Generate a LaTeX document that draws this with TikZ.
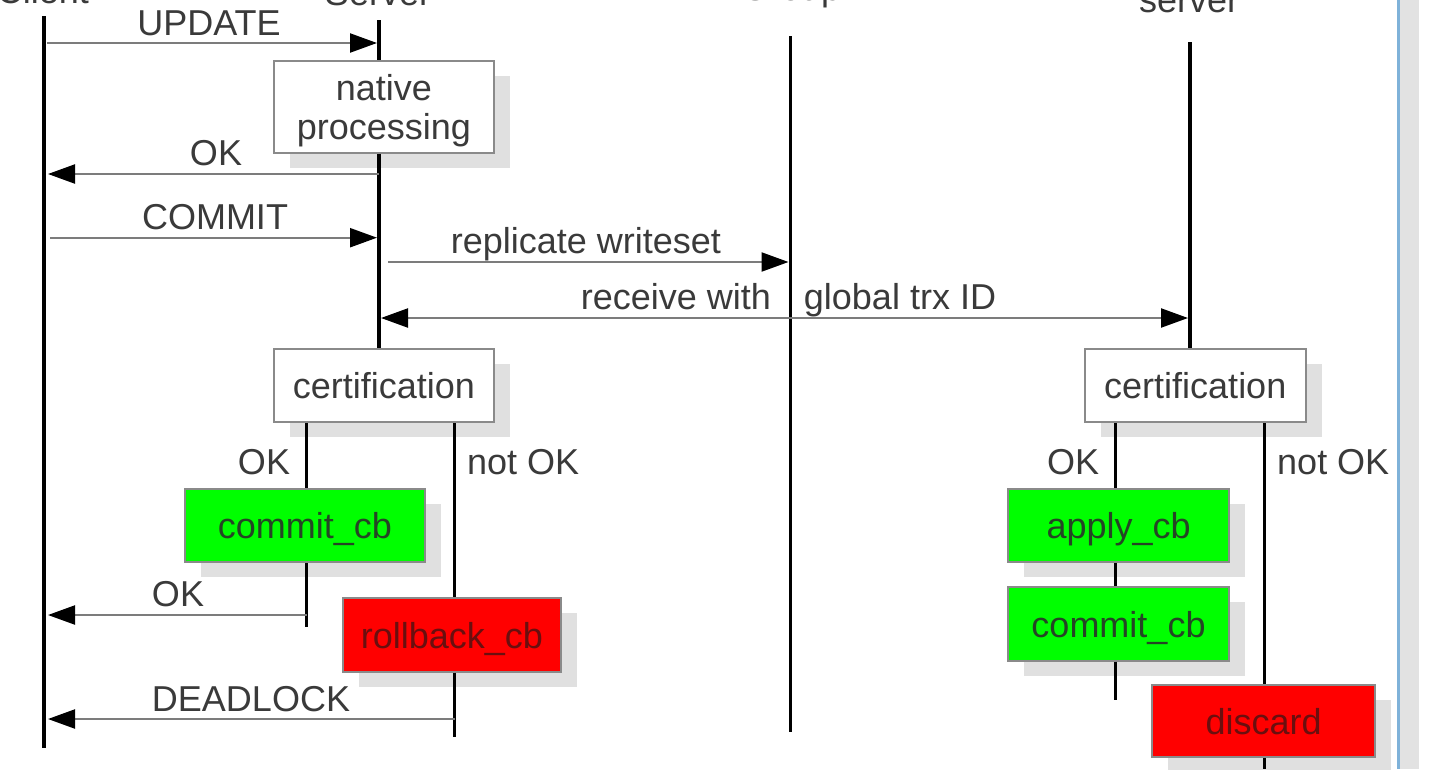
\documentclass[tikz,border=0pt]{standalone}
\usepackage{fontspec}
\setmainfont{Liberation Sans}
\usetikzlibrary{arrows.meta,shadows}
\definecolor{txt}{HTML}{3A3A3A}
\definecolor{msgc}{HTML}{7C7C7C}
\definecolor{boxb}{HTML}{8A8A8A}
\definecolor{shad}{HTML}{E0E0E0}
\definecolor{gfill}{HTML}{00FF00}
\definecolor{rfill}{HTML}{FF0000}
\definecolor{gtxt}{HTML}{254525}
\definecolor{rtxt}{HTML}{6A0F0F}
\definecolor{bluel}{HTML}{7FB2D9}
\definecolor{band}{HTML}{E2E2E2}
\begin{document}
\begin{tikzpicture}[x=1pt,y=-1pt,
  every node/.style={font=\fontsize{36}{39}\selectfont, text=txt, inner sep=0pt},
  lbl/.style={anchor=base},
  bigtri/.tip={Triangle[length=27pt,width=19pt,color=black]},
  msg/.style={draw=msgc, line width=2.2pt, -bigtri},
  life/.style={draw=black, line width=4.2pt},
  branch/.style={draw=black, line width=3pt},
  procbox/.style={draw=boxb, line width=2pt, fill=white, text depth=0pt, align=center,
    drop shadow={shadow xshift=16pt, shadow yshift=-15pt, fill=shad, opacity=1}},
  okbox/.style={procbox, fill=gfill, text=gtxt},
  badbox/.style={procbox, fill=rfill, text=rtxt}
]
\useasboundingbox (0,0) rectangle (1442,769);
\clip (0,0) rectangle (1442,769);
\fill[white] (0,0) rectangle (1442,769);

% right window edge
\fill[band] (1400,0) rectangle (1419,769);
\draw[bluel, line width=3pt] (1398.5,0) -- (1398.5,769);

% headers (cut off by the frame)
\node[lbl] (hCli) at (43,3) {Client};
\node[lbl] (hSrv) at (378,5) {Server};
\node[lbl] (hGrp) at (791,0) {Group};
\node[lbl] (hRem) at (1189,12.5) {server};

% boxes
\node[procbox, minimum width=219.6pt, minimum height=92pt] (native) at (383.8,106.7) {native\\processing};
\node[procbox, minimum width=219.6pt, minimum height=73pt] (certL) at (383.8,385.8) {certification};
\node[procbox, minimum width=221pt, minimum height=73pt] (certR) at (1195.25,385.8) {certification};
\node[okbox, minimum width=239.7pt, minimum height=73pt] (commitL) at (304.85,525.8) {commit\_cb};
\node[badbox, minimum width=218pt, minimum height=73.4pt] (rollback) at (452,635) {rollback\_cb};
\node[okbox, minimum width=221.5pt, minimum height=73pt] (apply) at (1118.65,525.8) {apply\_cb};
\node[okbox, minimum width=221pt, minimum height=73.4pt] (commitR) at (1118.5,624) {commit\_cb};
\node[badbox, minimum width=222.6pt, minimum height=72.3pt] (discard) at (1263.7,721.15) {discard};

% lifelines
\coordinate (cliTop) at (43.6,16);
\coordinate (cliBot) at (43.6,748);
\coordinate (srvTop) at (379,20);
\coordinate (grpTop) at (790,36);
\coordinate (grpBot) at (790,732);
\coordinate (remTop) at (1190,42);
\draw[life] (cliTop) -- (cliBot);
\draw[life] (srvTop) -- (srvTop |- native.north);
\draw[life] (srvTop |- native.south) -- (srvTop |- certL.north);
\draw[branch] (grpTop) -- (grpBot);
\draw[life] (remTop) -- (remTop |- certR.north);

% branches
\coordinate (brLok) at (306.7,626.7);
\coordinate (brLno) at (454.5,737);
\coordinate (brRok) at (1115.6,700);
\coordinate (brRno) at (1264,769);
\draw[branch] (certL.south -| brLok) -- (commitL.north -| brLok);
\draw[branch] (commitL.south -| brLok) -- (brLok);
\draw[branch] (certL.south -| brLno) -- (rollback.north -| brLno);
\draw[branch] (rollback.south -| brLno) -- (brLno);
\draw[branch] (certR.south -| brRok) -- (apply.north -| brRok);
\draw[branch] (apply.south -| brRok) -- (commitR.north -| brRok);
\draw[branch] (commitR.south -| brRok) -- (brRok);
\draw[branch] (certR.south -| brRno) -- (discard.north -| brRno);
\draw[branch] (discard.south -| brRno) -- (brRno);

% messages
\coordinate (updA) at (47,43);    \coordinate (updB) at (377,43);
\coordinate (ok1A) at (379,174);  \coordinate (ok1B) at (48,174);
\coordinate (comA) at (50,237.7); \coordinate (comB) at (377,237.7);
\coordinate (repA) at (388,262);  \coordinate (repB) at (788.5,262);
\coordinate (recA) at (381,318);  \coordinate (recB) at (1188,318);
\coordinate (ok2A) at (306.7,615);\coordinate (ok2B) at (48,615);
\coordinate (dlA) at (454.5,719); \coordinate (dlB) at (48,719);
\draw[msg] (updA) -- (updB);
\draw[msg] (ok1A) -- (ok1B);
\draw[msg] (comA) -- (comB);
\draw[msg] (repA) -- (repB);
\draw[msg, bigtri-bigtri] (recA) -- (recB);
\draw[msg] (ok2A) -- (ok2B);
\draw[msg] (dlA) -- (dlB);

% message labels
\node[lbl] (lUpd) at (209,35) {UPDATE};
\node[lbl] (lOk1) at (216,165) {OK};
\node[lbl] (lCom) at (215,229) {COMMIT};
\node[lbl] (lRep) at (586,253) {replicate writeset};
\node[lbl] (lRec) at (788.5,309) {receive with\hspace{33pt}global trx ID};
\node[lbl] (lOk2) at (178,606) {OK};
\node[lbl] (lDl) at (251,711) {DEADLOCK};

% branch labels
\node[lbl] (bLok) at (264,474) {OK};
\node[lbl, anchor=base west] (bLno) at (467,474) {not OK};
\node[lbl] (bRok) at (1073,474) {OK};
\node[lbl, anchor=base west] (bRno) at (1277,474) {not OK};
\end{tikzpicture}
\end{document}
